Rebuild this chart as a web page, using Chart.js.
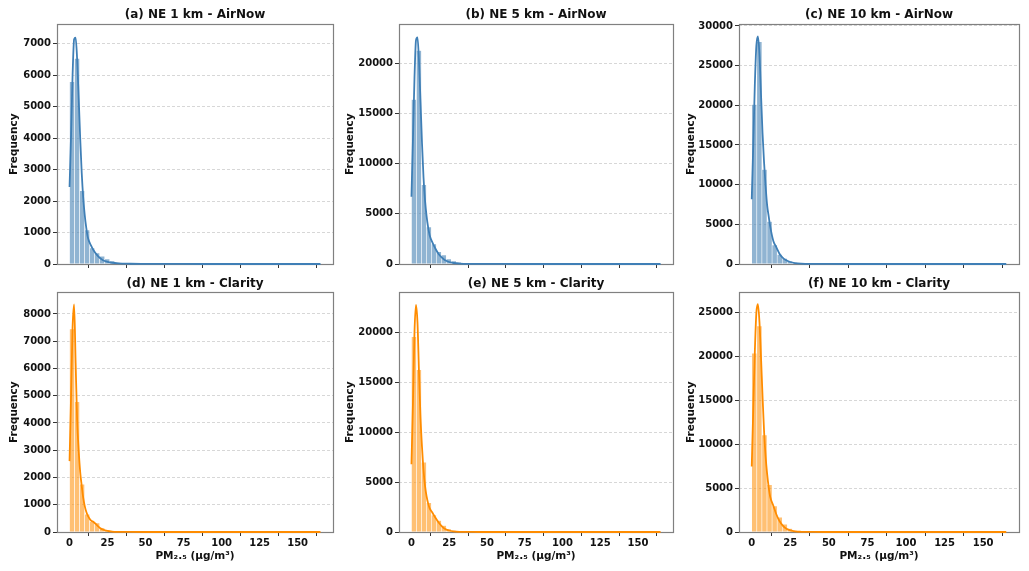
<!DOCTYPE html>
<html>
<head>
<meta charset="utf-8">
<script src="https://cdn.jsdelivr.net/npm/chart.js@4.4.1/dist/chart.umd.min.js"></script>
<style>
  html, body { margin: 0; padding: 0; background: #fff; }
  #fig { position: relative; width: 1029px; height: 571px; overflow: hidden; background: #fff; }
  #fig canvas { position: absolute; }
</style>
</head>
<body>
<div id="fig"></div>
<script>
// histogram: 50 bins of 3.3 µg/m³ from 0 to 165
var BIN_WIDTH = 3.3;
var binStarts = Array.from({ length: 50 }, function (_, i) { return +(i * BIN_WIDTH).toFixed(2); });

var histA = [5800, 6540, 2330, 1080, 510, 350, 250, 160, 100, 50, 30, 20, 14, 10, 7, 5, 4, 3, 3, 2, 2, 1, 1, 1, 1, 1, 1, 0, 1, 0, 0, 1, 0, 0, 0, 0, 0, 0, 0, 0, 0, 0, 0, 0, 0, 0, 0, 0, 0, 1];
var histB = [16400, 21300, 7900, 3700, 2000, 1230, 900, 500, 300, 180, 100, 60, 40, 25, 15, 10, 7, 5, 4, 3, 2, 2, 1, 1, 1, 1, 1, 0, 1, 0, 0, 1, 0, 0, 0, 0, 0, 0, 0, 0, 0, 0, 0, 0, 0, 0, 0, 0, 0, 1];
var histC = [20100, 28000, 11900, 5350, 2400, 1200, 700, 350, 200, 110, 60, 35, 20, 12, 8, 5, 3, 2, 2, 1, 1, 1, 1, 1, 0, 1, 0, 0, 1, 0, 0, 1, 0, 0, 0, 0, 0, 0, 0, 0, 0, 0, 0, 0, 0, 0, 0, 0, 0, 1];
var histD = [7450, 4780, 1750, 650, 380, 330, 150, 60, 25, 12, 6, 3, 2, 1, 1, 1, 1, 0, 1, 0, 0, 0, 0, 0, 0, 0, 0, 0, 0, 0, 0, 0, 0, 0, 0, 0, 0, 0, 0, 0, 0, 0, 0, 0, 0, 0, 0, 0, 0, 1];
var histE = [19600, 16300, 7000, 2950, 1700, 1150, 650, 300, 120, 50, 20, 10, 5, 3, 2, 1, 1, 1, 1, 0, 1, 0, 0, 0, 0, 0, 0, 0, 0, 0, 0, 0, 0, 0, 0, 0, 0, 0, 0, 0, 0, 0, 0, 0, 0, 0, 0, 0, 0, 1];
var histF = [20400, 23500, 11070, 5400, 2970, 1680, 900, 400, 170, 70, 30, 12, 6, 3, 2, 1, 1, 1, 1, 0, 1, 0, 0, 0, 0, 0, 0, 0, 0, 0, 0, 0, 0, 0, 0, 0, 0, 0, 0, 0, 0, 0, 0, 0, 0, 0, 0, 0, 0, 1];

// kde curve (scaled to counts), read at these PM2.5 values
var kdeX = [0, 1, 2, 3, 4, 5, 6, 7, 8, 9, 10, 11, 12, 14, 16, 18, 20, 22, 25, 28, 32, 40, 50, 75, 100, 130, 165];
var kdeA = [2450, 4100, 6000, 7150, 7200, 6500, 5300, 4000, 2900, 2100, 1550, 1150, 850, 600, 420, 290, 190, 120, 70, 40, 20, 8, 3, 1, 0, 0, 0];
var kdeB = [6700, 12500, 18500, 22300, 22600, 20200, 16200, 12000, 8600, 6300, 4800, 3700, 2900, 2100, 1500, 1000, 650, 400, 200, 100, 45, 15, 5, 2, 0, 0, 0];
var kdeC = [8170, 15000, 22500, 27500, 28700, 26500, 21500, 16500, 12800, 9800, 7400, 6000, 4700, 2900, 2100, 1300, 800, 500, 250, 120, 50, 15, 5, 1, 0, 0, 0];
var kdeD = [2600, 5000, 7500, 8350, 6200, 4100, 3000, 2200, 1700, 1250, 950, 740, 600, 430, 360, 250, 150, 90, 40, 15, 5, 1, 0, 0, 0, 0, 0];
var kdeE = [6800, 13000, 20000, 22800, 21000, 16000, 11500, 8500, 6200, 4600, 3600, 2900, 2400, 1900, 1400, 950, 600, 330, 150, 60, 20, 5, 1, 0, 0, 0, 0];
var kdeF = [7460, 14000, 20500, 25000, 26000, 24000, 20000, 15500, 11500, 8600, 6600, 5100, 4000, 3000, 2000, 1250, 750, 420, 180, 70, 25, 6, 2, 0, 0, 0, 0];

var titles = ['(a) NE 1 km - AirNow', '(b) NE 5 km - AirNow', '(c) NE 10 km - AirNow',
              '(d) NE 1 km - Clarity', '(e) NE 5 km - Clarity', '(f) NE 10 km - Clarity'];
var yMaxes = [7620, 23900, 30200, 8790, 24050, 27330];
var ySteps = [1000, 5000, 5000, 1000, 5000, 5000];
var xTicks = [0, 25, 50, 75, 100, 125, 150];

var FONT = 'DejaVu Sans';
var COLORS = {
  air: { line: '#3f7fb6', bar: 'rgba(70,130,180,0.6)' },
  clarity: { line: '#ff8c00', bar: 'rgba(255,140,0,0.55)' }
};

// grid cells (pixel layout of the figure)
var cols = [
  { left: 0, width: 340, axisW: 57, padR: 7, yTitlePad: 8.2 },
  { left: 340, width: 340, axisW: 59, padR: 7, yTitlePad: 3.7 },
  { left: 680, width: 349, axisW: 59, padR: 10, yTitlePad: 5 }
];
var rows = [
  { top: 0, height: 275, xAxisH: 11, titlePad: { top: 8, bottom: 2 }, labels: false },
  { top: 275, height: 296, xAxisH: 39, titlePad: { top: 2, bottom: 1 }, labels: true }
];

var framePlugin = {
  id: 'frame',
  beforeDatasetsDraw: function (chart) {
    var a = chart.chartArea, ctx = chart.ctx;
    ctx.save();
    ctx.strokeStyle = '#808080';
    ctx.lineWidth = 1.2;
    ctx.strokeRect(Math.round(a.left) + 0.5, Math.round(a.top) + 0.5,
                   Math.round(a.right - a.left), Math.round(a.bottom - a.top));
    ctx.restore();
  }
};

function plain(v) { return String(v); }

function makePanel(idx, hist, kde, palette) {
  var col = cols[idx % 3], row = rows[Math.floor(idx / 3)];
  var canvas = document.createElement('canvas');
  canvas.width = col.width;
  canvas.height = row.height;
  canvas.style.left = col.left + 'px';
  canvas.style.top = row.top + 'px';
  canvas.style.width = col.width + 'px';
  canvas.style.height = row.height + 'px';
  document.getElementById('fig').appendChild(canvas);

  var yMax = yMaxes[idx], yStep = ySteps[idx];

  new Chart(canvas, {
    data: {
      datasets: [
        {
          type: 'line',
          order: 0,
          data: kdeX.map(function (x, i) { return { x: x, y: kde[i] }; }),
          borderColor: palette.line,
          borderWidth: 1.8,
          pointRadius: 0,
          cubicInterpolationMode: 'monotone',
          clip: 4
        },
        {
          type: 'bar',
          order: 1,
          data: binStarts.map(function (s, i) { return { x: s + BIN_WIDTH / 2, y: hist[i] }; }),
          backgroundColor: palette.bar,
          borderColor: 'rgba(255,255,255,0.7)',
          borderWidth: 0.6,
          barPercentage: 1,
          categoryPercentage: 1
        }
      ]
    },
    options: {
      responsive: false,
      animation: false,
      devicePixelRatio: 1,
      layout: { padding: { left: 0, right: col.padR, top: 0, bottom: 0 } },
      plugins: {
        legend: { display: false },
        tooltip: { enabled: false },
        title: {
          display: true,
          text: titles[idx],
          fullSize: false,
          color: '#111',
          font: { family: FONT, size: 12, weight: 'bold', lineHeight: 1.2 },
          padding: row.titlePad
        }
      },
      scales: {
        x: {
          type: 'linear',
          min: -8.25,
          max: 173.25,
          offset: false,
          afterFit: function (s) { s.height = row.xAxisH; },
          afterBuildTicks: function (s) {
            s.ticks = xTicks.map(function (v) { return { value: v }; });
          },
          ticks: {
            display: row.labels,
            includeBounds: false,
            autoSkip: false,
            maxRotation: 0,
            padding: 1,
            color: '#111',
            callback: plain,
            font: { family: FONT, size: 10, weight: 'bold' }
          },
          grid: { display: true, drawOnChartArea: false, drawTicks: true, tickLength: 4, tickColor: '#333', tickWidth: 1 },
          border: { display: false },
          title: {
            display: row.labels,
            text: 'PM₂.₅ (µg/m³)',
            color: '#111',
            font: { family: FONT, size: 10.5, weight: 'bold', lineHeight: 1.2 },
            padding: { top: 0, bottom: 8 }
          }
        },
        y: {
          type: 'linear',
          min: 0,
          max: yMax,
          afterFit: function (s) { s.width = col.axisW; },
          afterBuildTicks: function (s) {
            var t = [];
            for (var v = 0; v <= yMax; v += yStep) t.push({ value: v });
            s.ticks = t;
          },
          ticks: {
            includeBounds: false,
            padding: 2,
            color: '#111',
            callback: plain,
            font: { family: FONT, size: 10, weight: 'bold' }
          },
          grid: {
            color: 'rgba(0,0,0,0.2)',
            lineWidth: 0.8,
            drawTicks: true,
            tickLength: 4,
            tickColor: '#333',
            tickWidth: 1,
            tickBorderDash: [1, 0]
          },
          border: { display: false, dash: [3, 2] },
          title: {
            display: true,
            text: 'Frequency',
            color: '#111',
            font: { family: FONT, size: 10.5, weight: 'bold', lineHeight: 1.2 },
            padding: { top: col.yTitlePad, bottom: 0 }
          }
        }
      }
    },
    plugins: [framePlugin]
  });
}

makePanel(0, histA, kdeA, COLORS.air);
makePanel(1, histB, kdeB, COLORS.air);
makePanel(2, histC, kdeC, COLORS.air);
makePanel(3, histD, kdeD, COLORS.clarity);
makePanel(4, histE, kdeE, COLORS.clarity);
makePanel(5, histF, kdeF, COLORS.clarity);
</script>
</body>
</html>
